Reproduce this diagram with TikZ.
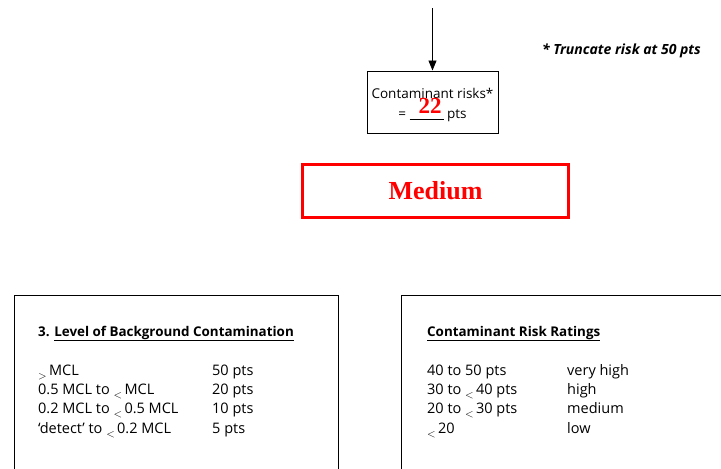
\documentclass[tikz,border=0pt]{standalone}
\usepackage{fontspec}
\setmainfont{Liberation Serif}
\setsansfont{Open Sans}
\usetikzlibrary{arrows.meta, positioning}

% subscript "less/greater than" marks as in the source sheet
\newcommand{\lsub}{\raisebox{-4.5pt}{\fontsize{11}{12}\selectfont$<$}\,}
\newcommand{\gsub}{\raisebox{-4.5pt}{\fontsize{11}{12}\selectfont$>$}\,}

\begin{document}
\begin{tikzpicture}[
  x=1pt, y=-1pt,
  >={Triangle[length=10pt, width=8pt]},
  font=\sffamily\fontsize{14.5}{16}\selectfont,
  outbox/.style={rectangle, draw, line width=1pt, align=center, inner sep=0pt},
  ratebox/.style={rectangle, draw=red, line width=2.5pt, minimum width=266, minimum height=53, inner sep=0pt},
  panel/.style={rectangle, draw, line width=1pt, anchor=north west, inner sep=0pt},
  row/.style={anchor=base west, inner sep=0pt},
  head/.style={row, font=\sffamily\bfseries\fontsize{13.4}{15}\selectfont}
]
\useasboundingbox (0,0) rectangle (721,469);
% -------------------------------------------------------------------------
% RESULT OF THE SCORING
% -------------------------------------------------------------------------
\coordinate (feed) at (432.5,8);
\node[outbox, minimum width=131, minimum height=62] (risk) at (432.5,102) {};
\node[row, anchor=base, font=\sffamily\fontsize{13.5}{15}\selectfont] (risk_l1) at (432.5,98) {Contaminant risks*};
\node[row, anchor=base, font=\sffamily\fontsize{13.5}{15}\selectfont] (risk_l2) at (432.5,118) {= \underline{\hspace{34pt}} pts};
\node[text=red, font=\rmfamily\bfseries\fontsize{23}{24}\selectfont, inner sep=0pt] (score) at (430,106) {22};
\draw[->, line width=0.9pt] (feed) -- (risk.north);

\node[anchor=base east, inner sep=0pt, font=\sffamily\bfseries\itshape\fontsize{14}{16}\selectfont] (note) at (701,54) {* Truncate risk at 50 pts};

\node[ratebox, text=red, font=\rmfamily\bfseries\fontsize{26}{28}\selectfont] (rating) at (435.5,191) {Medium};

% -------------------------------------------------------------------------
% LEVEL OF BACKGROUND CONTAMINATION
% -------------------------------------------------------------------------
\node[panel, minimum width=324, minimum height=200] (bg) at (14,295) {};
\node[head] (bg_title) at (38,336) {3. \underline{Level of Background Contamination}};
\node[row] (bg_a) at (38,375) {\gsub MCL};
\node[row] (bg_b) at (38,394) {0.5 MCL to \lsub MCL};
\node[row] (bg_c) at (38,413) {0.2 MCL to \lsub 0.5 MCL};
\node[row] (bg_d) at (38,433) {`detect' to \lsub 0.2 MCL};
\node[row] (bg_pa) at (212,375) {50 pts};
\node[row] (bg_pb) at (212,394) {20 pts};
\node[row] (bg_pc) at (212,413) {10 pts};
\node[row] (bg_pd) at (212,433) {5 pts};

% -------------------------------------------------------------------------
% CONTAMINANT RISK RATINGS
% -------------------------------------------------------------------------
\node[panel, minimum width=340, minimum height=200] (scale) at (401,295) {};
\node[head] (scale_title) at (427,336) {\underline{Contaminant Risk Ratings}};
\node[row] (scale_a) at (427,375) {40 to 50 pts};
\node[row] (scale_b) at (427,394) {30 to \lsub 40 pts};
\node[row] (scale_c) at (427,413) {20 to \lsub 30 pts};
\node[row] (scale_d) at (427,433) {\lsub 20};
\node[row] (scale_ra) at (567,375) {very high};
\node[row] (scale_rb) at (567,394) {high};
\node[row] (scale_rc) at (567,413) {medium};
\node[row] (scale_rd) at (567,433) {low};
\end{tikzpicture}
\end{document}
